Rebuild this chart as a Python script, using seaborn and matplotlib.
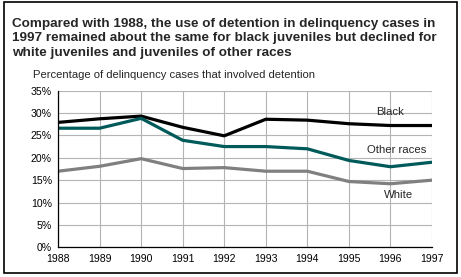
import matplotlib
matplotlib.use("Agg")
import matplotlib.pyplot as plt
import seaborn as sns
import pandas as pd

years = [1988, 1989, 1990, 1991, 1992, 1993, 1994, 1995, 1996, 1997]
black = [27.9, 28.7, 29.3, 26.8, 24.9, 28.6, 28.4, 27.6, 27.2, 27.2]
other_races = [26.6, 26.6, 28.8, 23.9, 22.5, 22.5, 22.0, 19.4, 18.0, 19.0]
white = [17.0, 18.1, 19.8, 17.6, 17.8, 17.0, 17.0, 14.7, 14.2, 15.0]

title_lines = [
    "Compared with 1988, the use of detention in delinquency cases in",
    "1997 remained about the same for black juveniles but declined for",
    "white juveniles and juveniles of other races",
]

df = pd.DataFrame({"year": years, "Black": black,
                   "Other races": other_races, "White": white})
long_df = df.melt(id_vars="year", var_name="race", value_name="pct")

sns.set_style("white")
plt.rcParams["font.family"] = ["Liberation Sans", "DejaVu Sans"]

fig = plt.figure(figsize=(4.61, 2.77), dpi=100)
ax = fig.add_axes([0.126, 0.107, 0.811, 0.566])

palette = {"Black": "#000000", "Other races": "#005a5a", "White": "#808080"}
sns.lineplot(data=long_df, x="year", y="pct", hue="race", palette=palette,
             linewidth=2.3, ax=ax, legend=False)

ax.set_xlim(1988, 1997)
ax.set_ylim(0, 35)
ax.set_xticks(years)
ax.set_yticks(range(0, 36, 5))
ax.set_yticklabels([f"{v}%" for v in range(0, 36, 5)])
ax.tick_params(labelsize=7.6, length=3, width=0.8, colors="black", pad=1.5,
               direction="out")
ax.grid(True, color="#b4b4b4", linewidth=0.8)
ax.set_axisbelow(True)
for side in ["top", "right"]:
    ax.spines[side].set_visible(False)
for side in ["left", "bottom"]:
    ax.spines[side].set_color("black")
    ax.spines[side].set_linewidth(0.9)
ax.set_xlabel("")
ax.set_ylabel("")

# series labels
ax.text(1996.0, 30.2, "Black", fontsize=8.2, ha="center", va="center")
ax.text(1996.15, 21.7, "Other races", fontsize=8.2, ha="center", va="center")
ax.text(1996.2, 11.7, "White", fontsize=8.2, ha="center", va="center")

# title, one line at a time so baselines match
for i, line in enumerate(title_lines):
    fig.text(0.026, 0.9025 - i * 0.052, line, fontsize=9.7, fontweight="bold",
             ha="left", va="baseline")
fig.text(0.072, 0.729, "Percentage of delinquency cases that involved detention",
         fontsize=8.1, ha="left", va="center")

# outer frame
fig.patches.append(plt.Rectangle((0.0087, 0.0155), 0.983, 0.977, transform=fig.transFigure,
                                 fill=False, edgecolor="black", linewidth=1.2))

fig.savefig("out.png", dpi=100)
